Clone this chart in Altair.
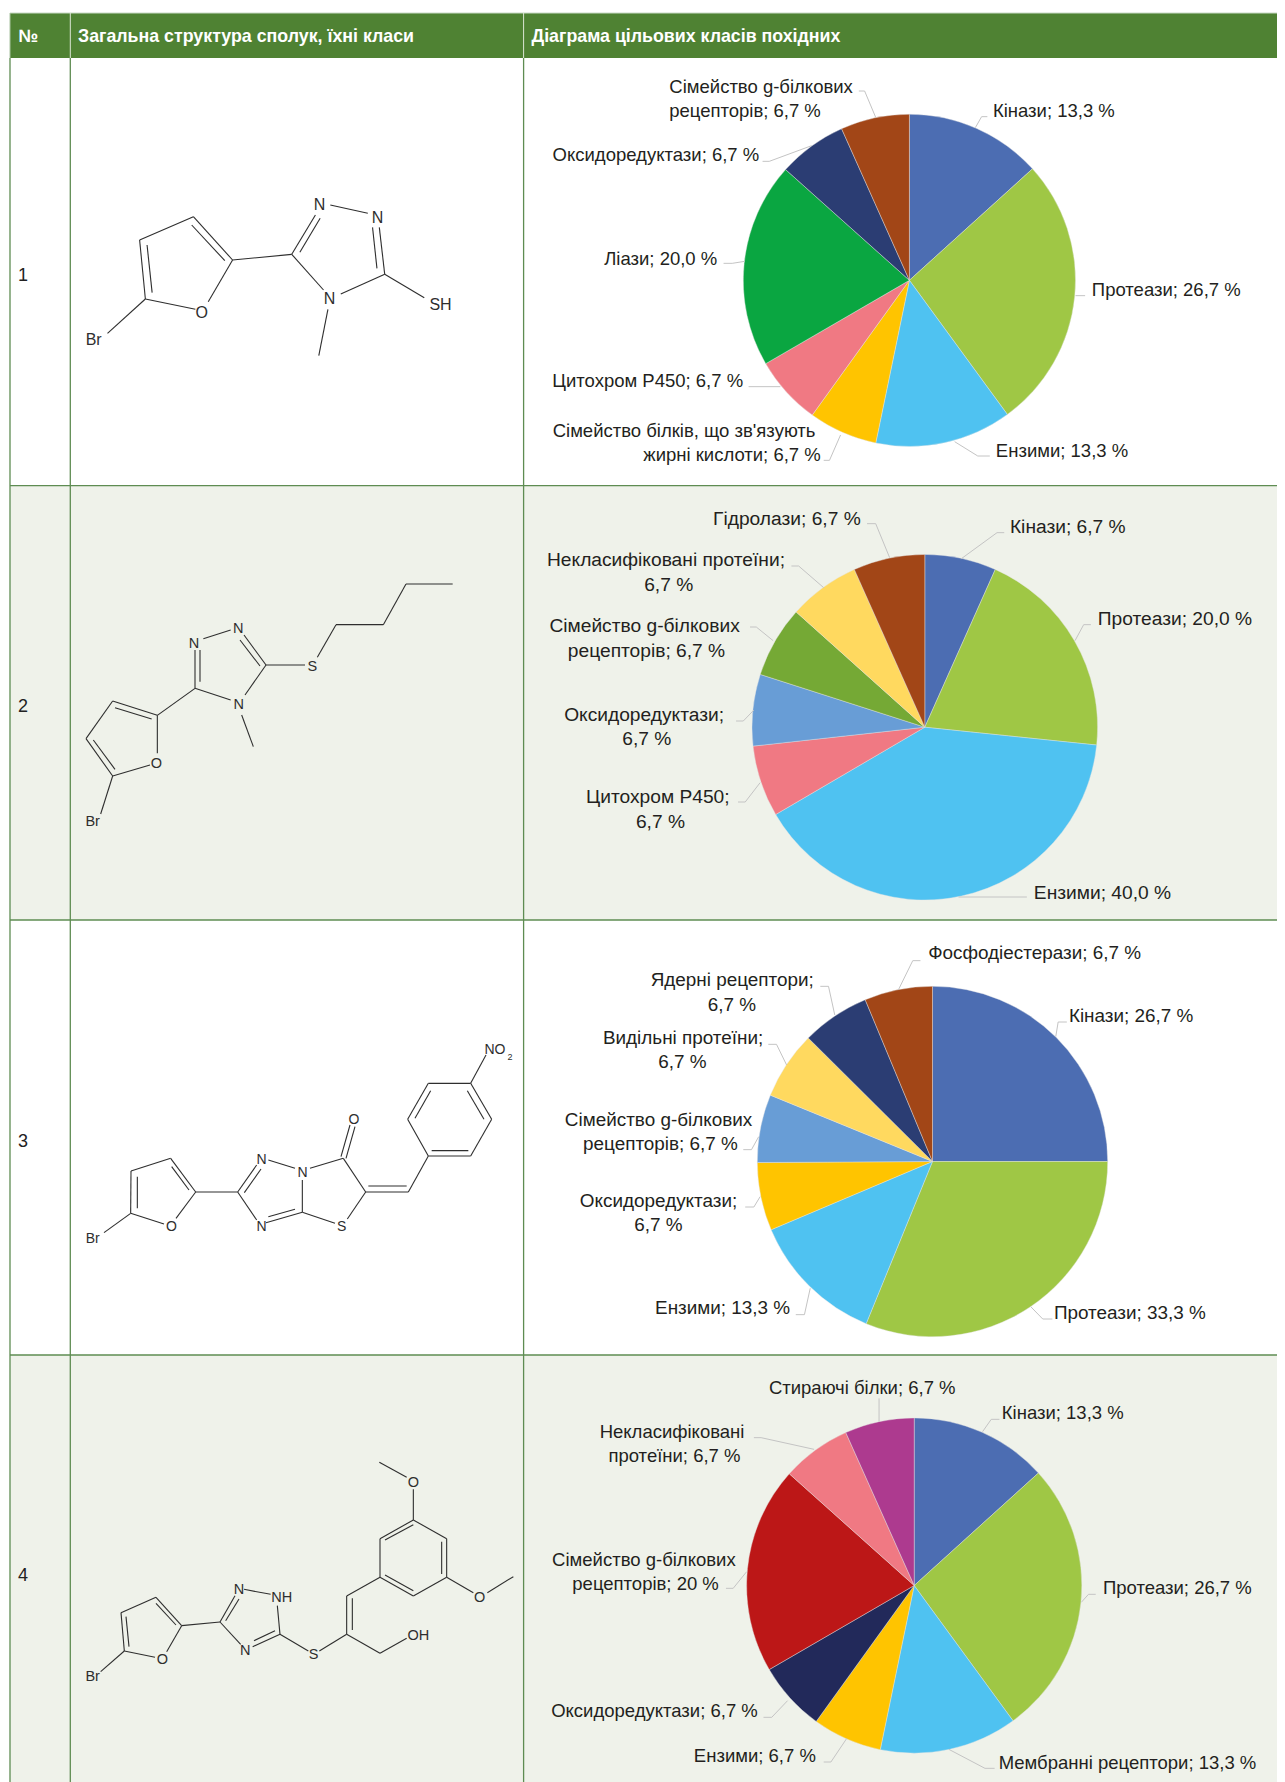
import math
import altair as alt
import pandas as pd

# ---- table text
HEADERS = ["№", "Загальна структура сполук, їхні класи", "Діаграма цільових класів похідних"]
ROW_NUMBERS = ["1", "2", "3", "4"]

# ---- pie values (per cent, as labelled)
PIE1_VALUES = [13.3, 26.7, 13.3, 6.7, 6.7, 20.0, 6.7, 6.7]
PIE2_VALUES = [6.7, 20.0, 40.0, 6.7, 6.7, 6.7, 6.7, 6.7]
PIE3_VALUES = [26.7, 33.3, 13.3, 6.7, 6.7, 6.7, 6.7, 6.7]
PIE4_VALUES = [13.3, 26.7, 13.3, 6.7, 6.7, 20.0, 6.7, 6.7]

BLUE, LIME, SKY, AMBER, PINK = "#4C6DB2", "#9FC745", "#4FC2F1", "#FFC400", "#F07983"
GREEN, NAVY, BROWN = "#0AA641", "#2B3D73", "#A24617"
STEEL, OLIVE, SAND = "#689DD6", "#75A935", "#FFD95F"
PLUM, RED, INK = "#AD3A8F", "#BC1717", "#22295A"

PIE1_COLORS = [BLUE, LIME, SKY, AMBER, PINK, GREEN, NAVY, BROWN]
PIE2_COLORS = [BLUE, LIME, SKY, PINK, STEEL, OLIVE, SAND, BROWN]
PIE3_COLORS = [BLUE, LIME, SKY, AMBER, STEEL, SAND, NAVY, BROWN]
PIE4_COLORS = [BLUE, LIME, SKY, AMBER, INK, RED, PINK, PLUM]

# centre x, centre y, radius
PIE_GEOMETRY = [(909.4, 280.3, 166.1), (924.8, 727.2, 172.8), (932.5, 1161.5, 175.2), (914.2, 1585.5, 167.6)]
PIE_FONT = [18.5, 19.2, 18.9, 18.5]

PIE1_LABELS = [
    ("Сімейство g-білкових", 290, 670, 262), ("рецепторів; 6,7 %", 290, 603, 333),
    ("Кінази; 13,3 %", 963, 1213, 333), ("Оксидоредуктази; 6,7 %", 47, 476, 465),
    ("Протеази; 26,7 %", 1167, 1476, 870), ("Ліази; 20,0 %", 155, 388, 777),
    ("Цитохром Р450; 6,7 %", 47, 442, 1143), ("Сімейство білків, що зв'язують", 47, 593, 1293),
    ("жирні кислоти; 6,7 %", 236, 603, 1365), ("Ензими; 13,3 %", 968, 1242, 1352),
]
PIE2_LABELS = [
    ("Гідролази; 6,7 %", 382, 685, 87), ("Кінази; 6,7 %", 998, 1236, 110),
    ("Некласифіковані протеїни;", 37, 528, 210), ("6,7 %", 238, 338, 284),
    ("Протеази; 20,0 %", 1180, 1499, 386), ("Сімейство g-білкових", 42, 434, 409),
    ("рецепторів; 6,7 %", 80, 404, 483), ("Оксидоредуктази;", 72, 402, 675),
    ("6,7 %", 192, 293, 748), ("Цитохром Р450;", 117, 414, 921),
    ("6,7 %", 220, 322, 995), ("Ензими; 40,0 %", 1048, 1330, 1208),
]
PIE3_LABELS = [
    ("Фосфодіестерази; 6,7 %", 828, 1268, 100), ("Ядерні рецептори;", 250, 590, 181),
    ("6,7 %", 370, 469, 254), ("Кінази; 26,7 %", 1120, 1377, 287),
    ("Видільні протеїни;", 152, 484, 355), ("6,7 %", 267, 366, 427),
    ("Сімейство g-білкових", 73, 461, 600), ("рецепторів; 6,7 %", 111, 431, 671),
    ("Оксидоредуктази;", 104, 430, 842), ("6,7 %", 217, 316, 915),
    ("Ензими; 13,3 %", 261, 539, 1165), ("Протеази; 33,3 %", 1088, 1404, 1178),
]
PIE4_LABELS = [
    ("Стираючі білки; 6,7 %", 495, 885, 84), ("Кінази; 13,3 %", 980, 1233, 158),
    ("Некласифіковані", 145, 445, 216), ("протеїни; 6,7 %", 162, 438, 288),
    ("Сімейство g-білкових", 45, 428, 600), ("рецепторів; 20 %", 87, 393, 672),
    ("Протеази; 26,7 %", 1189, 1500, 684), ("Оксидоредуктази; 6,7 %", 43, 474, 1053),
    ("Ензими; 6,7 %", 340, 594, 1187), ("Мембранні рецептори; 13,3 %", 972, 1510, 1208),
]

# ---- leader lines as polylines in crop units
PIE1_LEADERS = [
    [(683, 273), (695, 273), (718, 352)], [(950, 350), (938, 350), (925, 383)],
    [(483, 484), (497, 484), (585, 437)], [(402, 790), (420, 790), (446, 784)],
    [(1153, 887), (1133, 887)], [(454, 1160), (520, 1160)],
    [(610, 1381), (622, 1381), (645, 1305)], [(955, 1368), (930, 1368), (882, 1325)],
]
PIE2_LEADERS = [
    [(700, 101), (718, 101), (747, 203)], [(985, 128), (970, 128), (895, 207)],
    [(543, 228), (558, 228), (610, 293)], [(1165, 404), (1150, 404), (1132, 452)],
    [(457, 411), (470, 411), (505, 452)], [(428, 693), (443, 693), (465, 660)],
    [(432, 936), (447, 936), (478, 878)], [(1032, 1221), (890, 1221)],
]
PIE3_LEADERS = [
    [(811, 122), (795, 122), (765, 210)], [(603, 199), (620, 199), (633, 285)],
    [(1115, 306), (1097, 306), (1092, 350)], [(495, 373), (512, 373), (533, 435)],
    [(443, 689), (460, 689), (475, 650)], [(447, 861), (465, 861), (478, 830)],
    [(552, 1184), (570, 1184), (582, 1105)], [(1085, 1197), (1065, 1197), (1040, 1160)],
]
PIE4_LEADERS = [
    [(725, 115), (725, 185)], [(975, 178), (958, 178), (940, 215)],
    [(465, 233), (480, 233), (590, 268)], [(407, 685), (422, 685), (450, 635)],
    [(1175, 703), (1160, 703), (1145, 727)], [(485, 1072), (502, 1072), (535, 1022)],
    [(610, 1206), (625, 1206), (658, 1135)], [(965, 1225), (945, 1225), (870, 1168)],
]

# ---- molecule drawings, in crop units
MOL1_BONDS = [
    (318, 1000, 430, 897), (430, 897, 413, 720), (450, 878, 435, 735), (413, 720, 572, 650),
    (572, 650, 688, 780), (567, 675, 665, 782), (688, 780, 616, 905), (430, 897, 578, 928),
    (688, 780, 863, 763), (863, 763, 933, 645), (887, 757, 947, 655), (977, 615, 1088, 640),
    (1138, 823, 1122, 682), (1115, 805, 1102, 682), (1138, 823, 1008, 882), (863, 763, 957, 870),
    (1138, 823, 1255, 893), (970, 928, 943, 1067),
]
MOL1_ATOMS = [("Br", 277, 1021), ("O", 597, 940), ("N", 945, 616), ("N", 1117, 653), ("N", 975, 898), ("SH", 1303, 915)]
MOL2_BONDS = [
    (122, 822, 158, 708), (158, 708, 270, 675), (158, 708, 78, 596), (165, 688, 100, 600),
    (78, 596, 158, 483), (158, 483, 292, 526), (165, 503, 275, 537), (292, 526, 292, 640),
    (292, 526, 405, 445), (405, 445, 405, 330), (420, 425, 420, 330), (405, 445, 512, 480),
    (430, 296, 512, 270), (552, 285, 618, 375), (540, 300, 600, 378), (618, 375, 555, 465),
    (618, 375, 735, 375), (772, 352, 828, 254), (828, 254, 970, 254), (970, 254, 1038, 132),
    (1038, 132, 1178, 132), (545, 525, 580, 620),
]
MOL2_ATOMS = [("Br", 98, 847), ("O", 289, 672), ("N", 402, 312), ("N", 535, 267), ("N", 536, 494), ("S", 757, 380)]
MOL3_BONDS = [
    (132, 638, 212, 580), (212, 580, 312, 612), (212, 580, 213, 453), (232, 565, 232, 470),
    (213, 453, 332, 415), (332, 415, 407, 516), (335, 440, 387, 510), (407, 516, 348, 595),
    (407, 516, 533, 516), (533, 516, 590, 435), (553, 518, 603, 447), (533, 516, 590, 600),
    (625, 420, 705, 445), (727, 480, 727, 577), (618, 608, 727, 577), (625, 590, 705, 568),
    (727, 577, 825, 610), (750, 445, 850, 415), (850, 415, 917, 516), (917, 516, 862, 597),
    (843, 410, 870, 315), (858, 415, 885, 320), (917, 516, 1045, 516), (925, 498, 1040, 498),
    (1045, 516, 1105, 408), (1105, 408, 1232, 408), (1115, 392, 1225, 392), (1232, 408, 1295, 298),
    (1295, 298, 1232, 190), (1272, 298, 1222, 212), (1232, 190, 1105, 190), (1105, 190, 1043, 298),
    (1112, 212, 1065, 295), (1043, 298, 1105, 408), (1232, 190, 1278, 105),
]
MOL3_ATOMS = [("Br", 98, 657), ("O", 334, 622), ("N", 605, 420), ("N", 728, 460), ("N", 605, 622),
              ("S", 845, 622), ("O", 882, 300), ("NO", 1305, 90)]
MOL4_BONDS = [
    (122, 665, 193, 603), (193, 603, 285, 622), (193, 603, 183, 488), (207, 590, 198, 500),
    (183, 488, 288, 442), (288, 442, 365, 527), (288, 460, 348, 525), (365, 527, 320, 605),
    (365, 527, 480, 516), (480, 516, 525, 437), (497, 512, 537, 447), (480, 516, 542, 583),
    (552, 418, 632, 433), (652, 467, 660, 553), (660, 553, 578, 590), (645, 542, 582, 572),
    (660, 553, 745, 603), (778, 603, 860, 553), (860, 553, 860, 438), (877, 540, 877, 445),
    (860, 553, 960, 610), (960, 610, 1040, 565), (860, 438, 960, 382), (960, 382, 960, 266),
    (960, 266, 1060, 210), (975, 270, 1060, 224), (1060, 210, 1160, 266), (1160, 266, 1160, 382),
    (1145, 275, 1145, 372), (1160, 382, 1060, 438), (1060, 438, 960, 382), (1060, 422, 975, 375),
    (1060, 210, 1060, 118), (1040, 82, 958, 37), (1160, 382, 1240, 428), (1282, 428, 1360, 380),
]
MOL4_ATOMS = [("Br", 98, 682), ("O", 307, 630), ("N", 537, 420), ("NH", 665, 444), ("N", 556, 604),
              ("S", 761, 614), ("OH", 1075, 559), ("O", 1060, 99), ("O", 1259, 444)]

# crop -> page mappings (x offset, x scale, y offset, y scale)
PIE_CROPS = [(530, 2.077, 0, 3), (530, 2.077, 490, 3), (530, 2.077, 920, 3), (530, 2.077, 1360, 3)]
MOL_CROPS = [(0, 2.958, 0, 3), (60, 3, 540, 3), (60, 3, 1020, 3), (60, 3, 1450, 3)]
MOL_FONT = [16, 14.5, 14, 14.5]

PAGE_RIGHT = 1277
PAGE_BOTTOM = 1782


def mapper(c):
    return lambda px, py: (c[0] + px / c[1], c[2] + py / c[3])


# ---- tables
wedges = []
for i, (vals, cols) in enumerate(zip([PIE1_VALUES, PIE2_VALUES, PIE3_VALUES, PIE4_VALUES],
                                     [PIE1_COLORS, PIE2_COLORS, PIE3_COLORS, PIE4_COLORS])):
    cx, cy, r = PIE_GEOMETRY[i]
    total, run = sum(vals), 0.0
    for v, c in zip(vals, cols):
        a0 = run / total * 2 * math.pi
        run += v
        wedges.append(dict(cx=cx, cy=cy, r=r, a0=a0, a1=run / total * 2 * math.pi, color=c))
wedges = pd.DataFrame(wedges)

label_rows, leader_rows = [], []
for i, (labs, leads) in enumerate(zip([PIE1_LABELS, PIE2_LABELS, PIE3_LABELS, PIE4_LABELS],
                                      [PIE1_LEADERS, PIE2_LEADERS, PIE3_LEADERS, PIE4_LEADERS])):
    m = mapper(PIE_CROPS[i])
    for t, x0, x1, yc in labs:
        x, y = m((x0 + x1) / 2, yc)
        label_rows.append(dict(t=t, x=x, y=y, s=PIE_FONT[i]))
    for line in leads:
        for a, b in zip(line[:-1], line[1:]):
            x, y = m(*a)
            x2, y2 = m(*b)
            leader_rows.append(dict(x=x, y=y, x2=x2, y2=y2))
labels = pd.DataFrame(label_rows)
leaders = pd.DataFrame(leader_rows)

bond_rows, atom_rows = [], []
for i, (bonds, atoms) in enumerate(zip([MOL1_BONDS, MOL2_BONDS, MOL3_BONDS, MOL4_BONDS],
                                       [MOL1_ATOMS, MOL2_ATOMS, MOL3_ATOMS, MOL4_ATOMS])):
    m = mapper(MOL_CROPS[i])
    for a, b, c, d in bonds:
        x, y = m(a, b)
        x2, y2 = m(c, d)
        bond_rows.append(dict(x=x, y=y, x2=x2, y2=y2))
    for t, a, b in atoms:
        x, y = m(a, b)
        atom_rows.append(dict(t=t, x=x, y=y, s=MOL_FONT[i]))
sub_m = mapper(MOL_CROPS[2])
sx, sy = sub_m(1350, 110)
atom_rows.append(dict(t="2", x=sx, y=sy, s=9))
bonds_df = pd.DataFrame(bond_rows)
atoms_df = pd.DataFrame(atom_rows)

# table frame
shades = pd.DataFrame([dict(x=10, x2=PAGE_RIGHT, y=486, y2=920, c="#EFF2EA"),
                       dict(x=10, x2=PAGE_RIGHT, y=1355, y2=PAGE_BOTTOM, c="#EFF2EA"),
                       dict(x=10, x2=PAGE_RIGHT, y=13, y2=58, c="#4F8233")])
frame = pd.DataFrame([
    dict(x=10, x2=10, y=58, y2=PAGE_BOTTOM, c="#5E8C52", w=1.3),
    dict(x=70.3, x2=70.3, y=58, y2=PAGE_BOTTOM, c="#5E8C52", w=1.3),
    dict(x=523.6, x2=523.6, y=58, y2=PAGE_BOTTOM, c="#5E8C52", w=1.3),
    dict(x=10, x2=PAGE_RIGHT, y=485.7, y2=485.7, c="#5E8C52", w=1.3),
    dict(x=10, x2=PAGE_RIGHT, y=920, y2=920, c="#5E8C52", w=1.3),
    dict(x=10, x2=PAGE_RIGHT, y=1355, y2=1355, c="#5E8C52", w=1.3),
    dict(x=10, x2=PAGE_RIGHT, y=13.2, y2=13.2, c="#A9C3A0", w=1),
    dict(x=10, x2=10, y=13, y2=58, c="#A9C3A0", w=1),
    dict(x=70.3, x2=70.3, y=13, y2=58, c="#DCE6D6", w=1),
    dict(x=523.6, x2=523.6, y=13, y2=58, c="#DCE6D6", w=1),
])
heads = pd.DataFrame([dict(t=HEADERS[0], x=18.5, y=37), dict(t=HEADERS[1], x=78, y=37),
                      dict(t=HEADERS[2], x=531.5, y=37)])
nums = pd.DataFrame([dict(t=ROW_NUMBERS[0], x=18, y=276), dict(t=ROW_NUMBERS[1], x=18, y=706.5),
                     dict(t=ROW_NUMBERS[2], x=18, y=1141.5), dict(t=ROW_NUMBERS[3], x=18, y=1576)])

SX = alt.Scale(domain=[8, PAGE_RIGHT], nice=False, zero=False)
SY = alt.Scale(domain=[PAGE_BOTTOM, 8], nice=False, zero=False)
X = alt.X("x:Q", scale=SX, axis=None)
Y = alt.Y("y:Q", scale=SY, axis=None)

rects = alt.Chart(shades).mark_rect().encode(
    x=X, x2="x2:Q", y=Y, y2="y2:Q", color=alt.Color("c:N", scale=None))
lines = alt.Chart(frame).mark_rule().encode(
    x=X, x2="x2:Q", y=Y, y2="y2:Q", color=alt.Color("c:N", scale=None),
    strokeWidth=alt.StrokeWidth("w:Q", scale=None))
head_text = alt.Chart(heads).mark_text(
    font="Liberation Sans", fontWeight="bold", fontSize=17.8, color="white", align="left", baseline="middle"
).encode(x=X, y=Y, text="t:N")
num_text = alt.Chart(nums).mark_text(
    font="Liberation Sans", fontSize=18, color="#222222", align="left", baseline="middle"
).encode(x=X, y=Y, text="t:N")
arcs = alt.Chart(wedges).mark_arc(stroke="#E6E6E6", strokeWidth=0.4).encode(
    x=alt.X("cx:Q", scale=SX, axis=None),
    y=alt.Y("cy:Q", scale=SY, axis=None),
    theta=alt.Theta("a0:Q", scale=None, stack=None),
    theta2="a1:Q",
    radius=alt.Radius("r:Q", scale=None),
    color=alt.Color("color:N", scale=None),
)
lead = alt.Chart(leaders).mark_rule(color="#C4C4C4", strokeWidth=1).encode(x=X, x2="x2:Q", y=Y, y2="y2:Q")
lab = alt.Chart(labels).mark_text(
    font="Liberation Sans", color="#231F20", align="center", baseline="middle"
).encode(x=X, y=Y, text="t:N", size=alt.Size("s:Q", scale=None))
bond = alt.Chart(bonds_df).mark_rule(color="#2E2E2E", strokeWidth=1.1).encode(x=X, x2="x2:Q", y=Y, y2="y2:Q")
atom = alt.Chart(atoms_df).mark_text(
    font="Liberation Sans", color="#2E2E2E", align="center", baseline="middle"
).encode(x=X, y=Y, text="t:N", size=alt.Size("s:Q", scale=None))

chart = alt.layer(rects, lines, head_text, num_text, arcs, lead, lab, bond, atom).properties(
    width=PAGE_RIGHT - 8, height=PAGE_BOTTOM - 8, padding=0, autosize="none", background="white"
).configure_view(stroke=None)

chart.save("out.html", embed_options={"renderer": "svg", "actions": False})
